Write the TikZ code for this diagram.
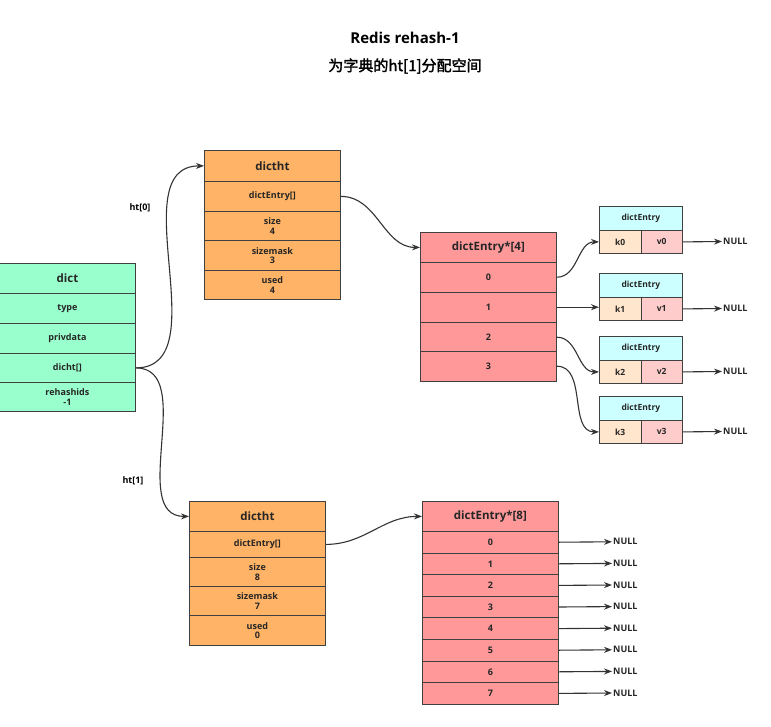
\documentclass[tikz,border=0pt]{standalone}
\usepackage{fontspec}
\setmainfont{Open Sans}
\newfontfamily\cjk{Noto Sans CJK SC}[AutoFakeBold=2]
\usetikzlibrary{arrows.meta}
\definecolor{cgreen}{HTML}{99FFCC}
\definecolor{corange}{HTML}{FFB366}
\definecolor{cpink}{HTML}{FF9999}
\definecolor{ccyan}{HTML}{CCFFFF}
\definecolor{cpeach}{HTML}{FFE6CC}
\definecolor{cvpink}{HTML}{FFCCCC}
\begin{document}
\begin{tikzpicture}[x=1pt,y=-1pt,
 cell/.style={draw=black!75,line width=0.8pt,anchor=north west,inner sep=0pt,align=center,
   font=\bfseries\fontsize{9}{9.5}\selectfont,text=black!85},
 head/.style={cell,font=\bfseries\fontsize{11.5}{12}\selectfont},
 sm/.style={cell,font=\bfseries\fontsize{8.5}{9}\selectfont},
 con/.style={line width=1.1pt,black!80,-{Stealth[length=8pt,width=6pt]}},
 nul/.style={font=\bfseries\fontsize{9}{9}\selectfont,text=black!85,anchor=west,inner sep=1pt}]
\useasboundingbox (0,0) rectangle (771,726);
\fill[white] (0,0) rectangle (771,726);
% title
\node[font=\bfseries\fontsize{15}{15}\selectfont] (t1) at (405,38) {Redis rehash-1};
\node[font=\cjk\bfseries\fontsize{15}{15}\selectfont] (t2) at (405,66) {为字典的ht[1]分配空间};
% dict
\node[head,fill=cgreen,minimum width=136,minimum height=30] (dh) at (-1,263) {dict};
\node[cell,fill=cgreen,minimum width=136,minimum height=30] (dt) at (-1,293) {type};
\node[cell,fill=cgreen,minimum width=136,minimum height=30] (dp) at (-1,323) {privdata};
\node[cell,fill=cgreen,minimum width=136,minimum height=29] (dd) at (-1,353) {dicht[]};
\node[cell,fill=cgreen,minimum width=136,minimum height=29] (dr) at (-1,382) {rehashids\\-1};
% ht0
\node[head,fill=corange,minimum width=136,minimum height=31] (ah) at (204,150) {dictht};
\node[cell,fill=corange,minimum width=136,minimum height=30] (ae) at (204,181) {dictEntry[]};
\node[cell,fill=corange,minimum width=136,minimum height=29] (as) at (204,211) {size\\4};
\node[cell,fill=corange,minimum width=136,minimum height=30] (am) at (204,240) {sizemask\\3};
\node[cell,fill=corange,minimum width=136,minimum height=29] (au) at (204,270) {used\\4};
% ht1
\node[head,fill=corange,minimum width=136,minimum height=30] (bh) at (189,501) {dictht};
\node[cell,fill=corange,minimum width=136,minimum height=26] (be) at (189,531) {dictEntry[]};
\node[cell,fill=corange,minimum width=136,minimum height=29] (bs) at (189,557) {size\\8};
\node[cell,fill=corange,minimum width=136,minimum height=29] (bm) at (189,586) {sizemask\\7};
\node[cell,fill=corange,minimum width=136,minimum height=30] (bu) at (189,615) {used\\0};
% labels
\node[font=\bfseries\fontsize{9}{9}\selectfont] (l0) at (140,208) {ht[0]};
\node[font=\bfseries\fontsize{9}{9}\selectfont] (l1) at (133,481) {ht[1]};
% dictEntry*[4]
\node[head,fill=cpink,minimum width=136,minimum height=30] (ch) at (420,232) {dictEntry*[4]};
\foreach \i/\y in {0/262,1/292,2/322,3/351}
  \node[cell,fill=cpink,minimum width=136,minimum height=29.6] (c\i) at (420,\y) {\i};
% small entries
\foreach \i/\y in {0/206,1/273,2/336,3/396}{
  \node[sm,fill=ccyan,minimum width=83,minimum height=24] (eh\i) at (599,\y) {dictEntry};
  \node[sm,fill=cpeach,minimum width=41.5,minimum height=23] (ek\i) at (599,\y+24) {k\i};
  \node[sm,fill=cvpink,minimum width=41.5,minimum height=23] (ev\i) at (640.5,\y+24) {v\i};
  \node[nul] (en\i) at (722,\y+35.5) {NULL};
  \draw[con] (ev\i.east) -- (en\i.west);
}
% dictEntry*[8]
\node[head,fill=cpink,minimum width=136,minimum height=30] (fh) at (422,501) {dictEntry*[8]};
\foreach \i in {0,...,7}{
  \node[cell,fill=cpink,minimum width=136,minimum height=21.6] (f\i) at (422,531+21.6*\i) {\i};
  \node[nul] (fn\i) at (612,531+21.6*\i+10.8) {NULL};
  \draw[con] (f\i.east) -- (fn\i.west);
}
% connectors
\draw[con] (dd.east) to[out=0,in=180] (ah.west);
\draw[con] (dd.east) to[out=0,in=180] (bh.west);
\draw[con] (ae.east) to[out=0,in=180] (ch.west);
\draw[con] (be.east) to[out=0,in=180] (fh.west);
\draw[con] (c0.east) to[out=0,in=180] (ek0.west);
\draw[con] (c1.east) -- (c1.east -| ek1.west);
\draw[con] (c2.east) to[out=0,in=180] (ek2.west);
\draw[con] (c3.east) to[out=0,in=180] (ek3.west);
\end{tikzpicture}
\end{document}
